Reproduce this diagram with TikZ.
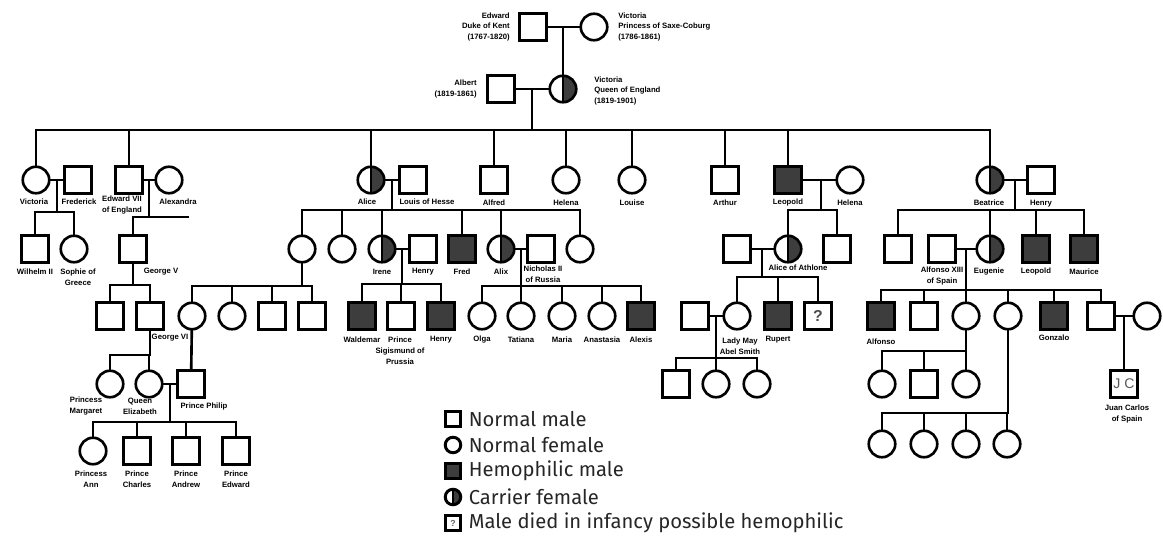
\documentclass[tikz,border=0pt]{standalone}
\usepackage{fontspec}
\setmainfont{Liberation Sans}
\newfontfamily\keyfont{Fira Sans}
\usetikzlibrary{positioning}
\definecolor{hemo}{HTML}{3D3D3D}

\begin{document}
\begin{tikzpicture}[x=0.02cm, y=-0.02cm, line width=1.5pt, line cap=rect,
  male/.style={rectangle,draw,minimum size=0.53cm,inner sep=0pt},
  female/.style={circle,draw,minimum size=0.53cm,inner sep=0pt},
  hemo/.style={male,fill=hemo},
  carrier/.style={female,path picture={\fill[hemo] (path picture bounding box.north) rectangle (path picture bounding box.south east);}},
  who/.style={font=\fontsize{4.4}{6.2}\selectfont\bfseries,align=center,inner sep=0pt},
  keyicon/.style={minimum size=0.31cm,line width=1.7pt},
  keytext/.style={font=\keyfont\fontsize{11.5}{13}\selectfont,text=black!85,inner sep=0pt}]
  \useasboundingbox (0,0) rectangle (1163,547);

  \node[male] (edw) at (533,27) {};
  \node[female] (vsc) at (594,27) {};
  \node[male] (alb) at (501,89) {};
  \node[carrier] (vqe) at (563,89) {};

  \node[female] (vpr) at (36,180) {};
  \node[male] (fre) at (78,180) {};
  \node[male] (e7) at (129,180) {};
  \node[female] (ale) at (169,180) {};
  \node[carrier] (ali) at (371,180) {};
  \node[male] (lou) at (413,180) {};
  \node[male] (alf) at (494,180) {};
  \node[female] (hel) at (566,180) {};
  \node[female] (lse) at (632,180) {};
  \node[male] (art) at (725,180) {};
  \node[hemo] (leo) at (788,180) {};
  \node[female] (hwa) at (850,180) {};
  \node[carrier] (bea) at (990,180) {};
  \node[male] (hen) at (1041,180) {};

  \node[male] (wil) at (35,249) {};
  \node[female] (sop) at (74,249) {};
  \node[male] (gv) at (133,249) {};
  \node[female] (vhe) at (302,249) {};
  \node[female] (ela) at (342,249) {};
  \node[carrier] (ire) at (382,249) {};
  \node[male] (hpr) at (423,249) {};
  \node[hemo] (fri) at (462,249) {};
  \node[carrier] (alx) at (501,249) {};
  \node[male] (nic) at (541,249) {};
  \node[female] (mhe) at (580,249) {};
  \node[male] (aat) at (737,249) {};
  \node[carrier] (alc) at (788,249) {};
  \node[male] (cha) at (837,249) {};
  \node[male] (bal) at (898,249) {};
  \node[male] (a13) at (942,249) {};
  \node[carrier] (eug) at (990,249) {};
  \node[hemo] (lbe) at (1036,249) {};
  \node[hemo] (mau) at (1084,249) {};

  \node[male] (g5a) at (110,316) {};
  \node[male] (g6) at (150,316) {};
  \node[female] (aba) at (192,316) {};
  \node[female] (lbb) at (232,316) {};
  \node[male] (gba) at (272,316) {};
  \node[male] (lba) at (312,316) {};
  \node[hemo] (wal) at (362,316) {};
  \node[male] (sig) at (401,316) {};
  \node[hemo] (hrp) at (441,316) {};
  \node[female] (olg) at (482,316) {};
  \node[female] (tat) at (521,316) {};
  \node[female] (mar) at (562,316) {};
  \node[female] (ana) at (602,316) {};
  \node[hemo] (alxs) at (641,316) {};
  \node[male] (hlm) at (695,316) {};
  \node[female] (may) at (737,316) {};
  \node[hemo] (rup) at (778,316) {};
  \node[male,font=\fontsize{9}{9}\selectfont\bfseries,text=black!70] (unk) at (818,316) {?};
  \node[hemo] (afo) at (881,316) {};
  \node[male] (jai) at (924,316) {};
  \node[female] (bti) at (966,316) {};
  \node[female] (mcr) at (1008,316) {};
  \node[hemo] (gon) at (1054,316) {};
  \node[male] (jua) at (1101,316) {};
  \node[female] (mer) at (1147,316) {};

  \node[female] (mgt) at (110,384) {};
  \node[female] (eli) at (149,384) {};
  \node[male] (phi) at (191,384) {};
  \node[male] (hc1) at (676,384) {};
  \node[female] (hc2) at (716,384) {};
  \node[female] (hc3) at (757,384) {};
  \node[female] (c1) at (882,384) {};
  \node[male] (c2) at (924,384) {};
  \node[female] (c3) at (966,384) {};
  \node[male,font=\fontsize{8}{8}\selectfont,text=black!65] (jc) at (1124,384) {J C};

  \node[female] (ann) at (93,451) {};
  \node[male] (chs) at (137,451) {};
  \node[male] (anw) at (186,451) {};
  \node[male] (edd) at (236,451) {};
  \node[female] (d1) at (882,444) {};
  \node[female] (d2) at (924,444) {};
  \node[female] (d3) at (966,444) {};
  \node[female] (d4) at (1007,444) {};

  \coordinate (m0) at (563,27);
  \coordinate (m1) at (532,89);   \coordinate (b1) at (532,130);
  \coordinate (m2) at (57,180);   \coordinate (b2) at (57,212);
  \coordinate (m3) at (149,180);  \coordinate (b3) at (149,217);
  \coordinate (s3) at (188,217);
  \coordinate (m4) at (392,180);  \coordinate (b4) at (392,210);
  \coordinate (m5) at (821,180);  \coordinate (b5) at (821,210);
  \coordinate (m6) at (1015,180); \coordinate (b6) at (1015,210);
  \coordinate (b7) at (133,285);
  \coordinate (b8) at (302,286);
  \coordinate (m9) at (402,249);  \coordinate (b9) at (402,284);
  \coordinate (m10) at (521,249); \coordinate (b10) at (521,286);
  \coordinate (m11) at (762,249); \coordinate (b11) at (762,277);
  \coordinate (m12) at (966,249); \coordinate (b12) at (966,290);
  \coordinate (b13) at (150,355);
  \coordinate (m15) at (170,384); \coordinate (b15) at (170,422);
  \coordinate (m16) at (716,316); \coordinate (b16) at (716,358);
  \coordinate (b17) at (966,351);
  \coordinate (b18) at (1008,413);
  \coordinate (m19) at (1124,316);

  \foreach \a/\b in {edw/vsc,alb/vqe,vpr/fre,e7/ale,ali/lou,leo/hwa,bea/hen,ire/hpr,alx/nic,aat/alc,a13/eug,eli/phi,hlm/may,jua/mer}{\draw (\a) -- (\b); }
  \draw (m0) -- (vqe);
  \draw (aba) -- (phi);
  \draw (m19) -- (jc);

  \draw (m1) -- (b1);
  \draw (vpr |- b1) -- (bea |- b1);
  \foreach \c in {vpr,e7,ali,alf,hel,lse,art,leo,bea}{\draw (\c) -- (\c |- b1); }

  \draw (m2) -- (b2);
  \draw (wil |- b2) -- (sop |- b2);
  \foreach \c in {wil,sop}{\draw (\c) -- (\c |- b2); }

  \draw (m3) -- (b3);
  \draw (gv |- b3) -- (s3);
  \draw (gv) -- (gv |- b3);

  \draw (m4) -- (b4);
  \draw (vhe |- b4) -- (mhe |- b4);
  \foreach \c in {vhe,ela,ire,fri,alx,mhe}{\draw (\c) -- (\c |- b4); }

  \draw (m5) -- (b5);
  \draw (alc |- b5) -- (cha |- b5);
  \foreach \c in {alc,cha}{\draw (\c) -- (\c |- b5); }

  \draw (m6) -- (b6);
  \draw (bal |- b6) -- (mau |- b6);
  \foreach \c in {bal,eug,lbe,mau}{\draw (\c) -- (\c |- b6); }

  \draw (gv) -- (b7);
  \draw (g5a |- b7) -- (g6 |- b7);
  \foreach \c in {g5a,g6}{\draw (\c) -- (\c |- b7); }

  \draw (vhe) -- (b8);
  \draw (aba |- b8) -- (lba |- b8);
  \foreach \c in {aba,lbb,gba,lba}{\draw (\c) -- (\c |- b8); }

  \draw (m9) -- (b9);
  \draw (wal |- b9) -- (hrp |- b9);
  \foreach \c in {wal,sig,hrp}{\draw (\c) -- (\c |- b9); }

  \draw (m10) -- (b10);
  \draw (olg |- b10) -- (alxs |- b10);
  \foreach \c in {olg,tat,mar,ana,alxs}{\draw (\c) -- (\c |- b10); }

  \draw (m11) -- (b11);
  \draw (may |- b11) -- (unk |- b11);
  \foreach \c in {may,rup,unk}{\draw (\c) -- (\c |- b11); }

  \draw (m12) -- (b12);
  \draw (afo |- b12) -- (jua |- b12);
  \foreach \c in {afo,jai,bti,mcr,gon,jua}{\draw (\c) -- (\c |- b12); }

  \draw (g6) -- (b13);
  \draw (mgt |- b13) -- (eli |- b13);
  \foreach \c in {mgt,eli}{\draw (\c) -- (\c |- b13); }

  \draw (m15) -- (b15);
  \draw (ann |- b15) -- (edd |- b15);
  \foreach \c in {ann,chs,anw,edd}{\draw (\c) -- (\c |- b15); }

  \draw (m16) -- (b16);
  \draw (hc1 |- b16) -- (hc3 |- b16);
  \foreach \c in {hc1,hc2,hc3}{\draw (\c) -- (\c |- b16); }

  \draw (bti) -- (b17);
  \draw (c1 |- b17) -- (c3 |- b17);
  \foreach \c in {c1,c2,c3}{\draw (\c) -- (\c |- b17); }

  \draw (mcr) -- (b18);
  \draw (d1 |- b18) -- (d4 |- b18);
  \foreach \c in {d1,d2,d3,d4}{\draw (\c) -- (\c |- b18); }

  \node[who,anchor=east,align=right] (tedw) at (511,27) {Edward\\Duke of Kent\\(1767-1820)};
  \node[who,anchor=west,align=left] (tvsc) at (617,27) {Victoria\\Princess of Saxe-Coburg\\(1786-1861)};
  \node[who,anchor=east,align=right] (talb) at (478,89) {Albert\\(1819-1861)};
  \node[who,anchor=west,align=left] (tvqe) at (593,91) {Victoria\\Queen of England\\(1819-1901)};

  \node[who] (tvpr) at (34,202) {Victoria};
  \node[who] (tfre) at (79,202) {Frederick};
  \node[who] (te7) at (122,205) {Edward VII\\of England};
  \node[who] (tale) at (178,202) {Alexandra};
  \node[who] (tali) at (367,202) {Alice};
  \node[who] (tlou) at (427,202) {Louis of Hesse};
  \node[who] (talf) at (494,203) {Alfred};
  \node[who] (thel) at (566,203) {Helena};
  \node[who] (tlse) at (632,203) {Louise};
  \node[who] (tart) at (725,203) {Arthur};
  \node[who] (tleo) at (788,203) {Leopold};
  \node[who] (thwa) at (850,203) {Helena};
  \node[who] (tbea) at (989,203) {Beatrice};
  \node[who] (then) at (1041,204) {Henry};

  \node[who] (twil) at (35,272) {Wilhelm II};
  \node[who] (tsop) at (78,277) {Sophie of\\Greece};
  \node[who] (tgv) at (161,272) {George V};
  \node[who] (tire) at (382,272) {Irene};
  \node[who] (thpr) at (423,272) {Henry};
  \node[who] (tfri) at (462,272) {Fred};
  \node[who] (talx) at (501,272) {Alix};
  \node[who] (tnic) at (543,274) {Nicholas II\\of Russia};
  \node[who] (talc) at (798,268) {Alice of Athlone};
  \node[who] (ta13) at (942,276) {Alfonso XIII\\of Spain};
  \node[who] (teug) at (989,272) {Eugenie};
  \node[who] (tlbe) at (1036,272) {Leopold};
  \node[who] (tmau) at (1084,272) {Maurice};

  \node[who] (tg6) at (170,338) {George VI};
  \node[who] (twal) at (362,340) {Waldemar};
  \node[who] (tsig) at (400,351) {Prince\\Sigismund of\\Prussia};
  \node[who] (thrp) at (441,340) {Henry};
  \node[who] (tolg) at (482,340) {Olga};
  \node[who] (ttat) at (521,340) {Tatiana};
  \node[who] (tmar) at (562,340) {Maria};
  \node[who] (tana) at (602,340) {Anastasia};
  \node[who] (talxs) at (641,340) {Alexis};
  \node[who] (tmay) at (740,346) {Lady May\\Abel Smith};
  \node[who] (trup) at (778,340) {Rupert};
  \node[who] (tafo) at (881,342) {Alfonso};
  \node[who] (tgon) at (1054,338) {Gonzalo};

  \node[who] (tmgt) at (86,406) {Princess\\Margaret};
  \node[who] (teli) at (140,406) {Queen\\Elizabeth};
  \node[who] (tphi) at (204,407) {Prince Philip};
  \node[who] (tjc) at (1127,414) {Juan Carlos\\of Spain};

  \node[who] (tann) at (91,479) {Princess\\Ann};
  \node[who] (tchs) at (137,479) {Prince\\Charles};
  \node[who] (tanw) at (186,479) {Prince\\Andrew};
  \node[who] (tedd) at (236,479) {Prince\\Edward};

  \node[male,keyicon] (k1) at (453,419) {};
  \node[female,keyicon] (k2) at (453,445) {};
  \node[hemo,keyicon] (k3) at (453,471) {};
  \node[carrier,keyicon] (k4) at (453,497) {};
  \node[male,keyicon,font=\fontsize{5}{5}\selectfont\bfseries,text=black!60] (k5) at (453,523) {?};
  \node[keytext,right=3pt of k1] (kt1) {Normal male};
  \node[keytext,right=3pt of k2] (kt2) {Normal female};
  \node[keytext,right=3pt of k3] (kt3) {Hemophilic male};
  \node[keytext,right=3pt of k4] (kt4) {Carrier female};
  \node[keytext,right=3pt of k5] (kt5) {Male died in infancy possible hemophilic};
\end{tikzpicture}
\end{document}
